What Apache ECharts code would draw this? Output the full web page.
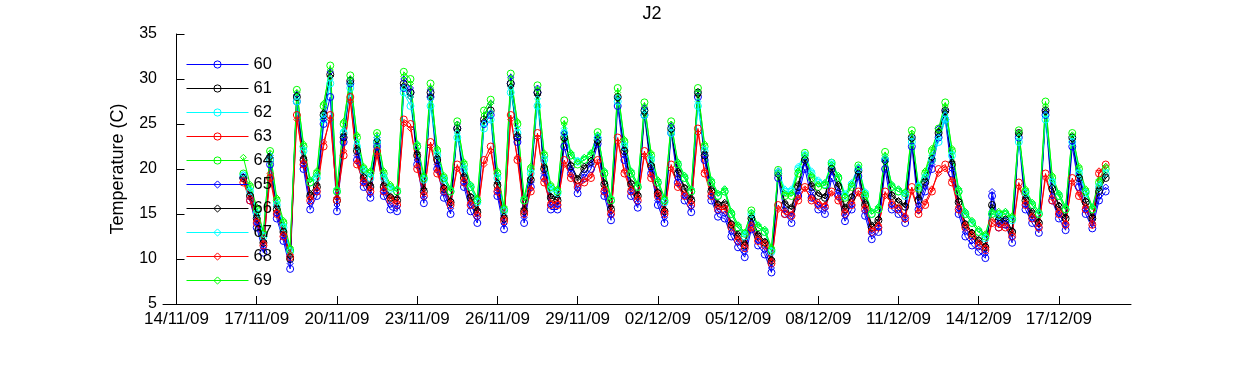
<!DOCTYPE html>
<html>
<head>
<meta charset="utf-8">
<script src="https://cdn.jsdelivr.net/npm/echarts@6/dist/echarts.min.js"></script>
<style>html,body{margin:0;padding:0;background:#fff}#c{width:1250px;height:365px}</style>
</head>
<body>
<div id="c"></div>
<script>
// Samples every 6 hours starting 16/11/09 12:00
var startDate = '2009-11-16T12:00:00Z';
var stepHours = 6;
var axisOrigin = '2009-11-14T00:00:00Z';
var tickDays = [0, 3, 6, 9, 12, 15, 18, 21, 24, 27, 30, 33];
var yTicks = [5, 10, 15, 20, 25, 30, 35];
var seriesNames = ['60', '61', '62', '63', '64', '65', '66', '67', '68', '69'];

var s60 = [19.0,16.5,
13.5,10.7,20.5,14.5, 12.0,8.9,27.5,20.0, 15.5,17.0,25.0,28.0, 15.3,23.0,29.5,21.0,
18.0,16.8,22.5,17.0, 15.5,15.3,29.0,28.5, 20.5,16.2,28.0,20.0, 16.8,15.0,24.5,18.0,
15.3,14.0,25.0,26.0, 17.0,13.3,29.5,23.0, 14.0,18.0,28.5,19.0, 15.5,15.5,22.5,19.5,
17.3,19.0,20.0,22.8, 17.0,14.3,27.0,21.0, 17.0,15.7,26.0,19.5, 16.0,14.0,24.0,18.5,
16.5,15.2,28.0,21.0, 16.5,14.7,14.5,12.5, 11.3,10.2,13.3,11.5, 10.5,8.5,19.0,15.0,
14.0,17.0,20.0,16.8, 15.5,15.0,19.0,17.0, 14.2,15.5,19.2,14.8, 12.2,13.0,20.0,15.5,
15.0,14.0,22.5,15.5, 17.5,20.0,23.5,25.5, 19.5,15.0,12.5,11.5, 10.8,10.1,17.0,13.5,
13.8,11.8,23.5,15.5, 14.0,12.9,26.0,16.5, 14.5,13.2,22.5,18.0, 15.0,13.4,16.5,17.5];

var s61 = [19.0,17.0,
14.5,11.8,21.0,15.5, 13.0,10.0,28.0,21.0, 17.0,18.0,26.0,30.5, 16.5,23.5,29.8,22.0,
19.0,18.0,23.0,18.0, 16.8,16.5,29.5,28.5, 21.5,17.5,28.5,21.0, 17.8,16.3,24.5,19.0,
16.8,15.2,25.5,26.5, 18.2,14.5,29.5,23.5, 15.3,18.8,28.5,20.0, 16.8,16.5,23.5,20.3,
18.8,20.0,20.8,23.2, 18.3,15.5,28.0,22.0, 18.3,17.0,26.5,20.3, 17.3,15.3,24.5,19.5,
17.8,16.5,28.5,21.5, 17.5,16.0,16.0,13.8, 12.5,11.5,14.5,12.5, 11.8,9.8,19.5,16.0,
15.5,18.0,21.0,18.0, 17.0,16.8,20.0,18.0, 15.5,16.8,19.8,16.0, 13.5,14.3,21.0,17.0,
16.3,15.8,23.5,16.5, 18.5,21.0,24.0,26.5, 20.5,16.3,13.8,12.8, 12.0,11.3,16.0,14.3,
14.3,13.0,24.0,16.5, 15.0,14.0,26.5,17.8, 15.8,14.5,23.5,19.0, 16.3,14.5,17.5,19.0];

var s62 = [19.3,17.5,
15.0,12.5,21.0,16.0, 13.5,10.8,27.5,22.0, 18.5,19.0,25.5,29.5, 17.5,24.0,29.0,22.5,
19.8,19.0,23.0,19.0, 17.8,17.5,28.5,27.0, 22.5,18.8,27.0,21.5, 18.8,17.5,23.5,20.0,
18.0,16.3,24.5,25.5, 19.0,15.3,28.5,24.0, 16.5,19.5,27.0,21.0, 17.8,17.3,24.0,21.5,
20.8,21.0,21.5,23.5, 19.5,16.5,27.5,22.5, 19.5,18.0,26.0,21.0, 18.5,16.3,24.0,20.5,
19.0,17.5,27.0,22.0, 18.5,17.0,17.5,15.0, 13.5,12.5,15.0,13.5, 13.0,10.8,19.5,17.5,
17.5,20.0,21.5,19.5, 18.5,18.3,20.5,19.0, 17.0,18.3,20.0,17.3, 15.0,15.5,21.0,18.0,
17.5,17.0,23.0,18.0, 19.0,21.0,23.0,25.5, 21.5,17.5,15.0,14.0, 13.0,12.3,15.0,14.8,
15.0,14.3,23.0,17.3, 16.0,15.0,25.5,18.5, 17.0,15.5,23.0,19.5, 17.3,15.5,18.0,19.5];

var s63 = [18.5,16.5,
14.0,11.5,19.0,15.0, 12.5,10.2,26.0,20.5, 16.5,17.5,22.5,26.0, 16.5,21.5,28.0,20.5,
18.5,17.5,22.0,17.5, 16.5,16.0,25.5,25.0, 20.0,17.0,23.0,19.5, 17.5,16.0,20.5,18.5,
16.0,14.8,21.0,22.5, 17.5,14.2,26.0,21.0, 15.0,17.5,24.0,18.5, 16.0,16.0,21.0,19.0,
18.0,18.5,19.0,21.0, 17.5,15.0,23.5,19.5, 17.5,16.5,22.0,19.0, 17.0,15.0,20.5,18.0,
17.0,16.0,24.5,19.5, 17.0,15.5,15.5,13.5, 12.0,11.2,13.5,12.0, 11.5,9.5,16.0,15.0,
14.8,16.5,18.0,16.5, 16.0,15.8,17.5,16.5, 15.0,16.0,17.5,15.5, 13.0,13.5,17.5,16.0,
15.5,14.5,18.0,15.0, 16.0,17.5,20.0,20.5, 18.5,15.5,13.5,12.5, 11.5,11.0,14.0,13.5,
13.5,12.5,18.5,16.0, 14.5,13.5,19.5,16.5, 15.0,13.8,19.0,17.0, 15.5,13.8,19.5,20.5];

var s64 = [19.5,18.0,
15.5,12.8,22.0,16.5, 14.0,11.0,28.8,22.5, 18.5,19.5,27.0,31.5, 17.5,25.0,30.4,23.5,
20.0,19.5,24.0,19.5, 18.0,17.5,30.8,30.0, 22.5,19.0,29.5,22.0, 19.0,17.5,25.3,20.5,
18.0,16.5,26.5,27.7, 19.5,15.5,30.6,25.0, 16.5,20.0,29.3,21.5, 18.0,17.5,25.4,21.5,
20.5,21.0,21.5,24.1, 19.5,16.5,29.0,23.0, 19.5,18.0,27.4,21.5, 18.5,16.5,25.3,20.5,
19.0,17.5,29.0,22.5, 18.5,17.0,17.5,15.0, 13.5,12.8,15.4,13.5, 13.0,11.0,19.9,17.0,
17.0,19.5,21.8,19.0, 18.0,18.2,20.7,19.0, 16.8,18.0,20.4,17.0, 15.0,15.5,21.9,18.0,
17.5,17.3,24.3,17.8, 19.5,22.0,24.5,27.4, 22.0,17.5,15.0,14.0, 13.0,12.5,15.0,15.0,
15.0,14.5,24.3,17.5, 16.0,15.0,27.5,19.0, 17.0,15.5,24.0,20.0, 17.5,15.5,18.5,20.0];

var s65 = [19.2,16.8,
14.0,11.2,21.5,15.0, 12.5,9.5,28.3,20.5, 16.2,17.5,25.5,30.8, 16.0,23.5,30.0,21.5,
18.5,17.2,23.5,17.5, 16.0,15.8,30.0,29.0, 21.0,16.8,28.8,20.5, 17.3,15.6,25.0,18.5,
16.0,14.6,26.0,27.3, 17.5,13.9,30.2,23.5, 14.6,18.5,29.0,19.5, 16.0,16.0,24.0,20.0,
17.8,19.5,20.5,23.5, 17.5,14.9,28.0,21.5, 17.5,16.3,26.8,20.0, 16.5,14.6,24.8,19.0,
17.0,15.8,28.5,21.5, 17.0,15.3,15.0,13.0, 11.8,10.8,14.0,12.0, 11.0,9.0,19.8,15.5,
14.8,17.5,20.8,17.5, 16.0,15.6,19.8,17.5, 14.8,16.0,20.0,15.3, 12.8,13.5,21.0,16.0,
15.5,14.6,23.5,16.0, 18.0,20.5,24.5,26.5, 20.0,15.6,13.0,12.0, 11.3,10.6,17.5,14.0,
14.3,12.4,24.0,16.0, 14.5,13.5,26.5,17.0, 15.0,13.8,23.0,18.5, 15.5,14.0,17.0,18.0];

var s66 = [19.1,17.2,
14.8,12.0,21.3,15.8, 13.2,10.3,28.2,21.3, 17.3,18.3,26.3,30.3, 16.8,23.8,29.5,22.3,
19.2,18.3,23.2,18.3, 17.0,16.8,29.3,28.0, 21.8,17.8,28.0,21.3, 18.0,16.5,24.3,19.3,
17.0,15.5,25.3,26.3, 18.5,14.8,29.2,23.8, 15.6,19.0,28.2,20.3, 17.0,16.8,23.3,20.5,
19.0,20.3,21.0,23.0, 18.5,15.8,27.8,22.2, 18.5,17.2,26.2,20.5, 17.5,15.5,24.3,19.8,
18.0,16.8,28.2,21.8, 17.8,16.2,16.3,14.0, 12.8,11.8,14.7,12.8, 12.0,10.0,19.3,16.3,
15.8,18.3,21.2,18.3, 17.3,17.0,20.2,18.3, 15.8,17.0,19.6,16.3, 13.8,14.5,20.8,17.2,
16.5,16.0,23.3,16.8, 18.8,21.2,24.2,26.3, 20.8,16.5,14.0,13.0, 12.2,11.5,15.8,14.5,
14.5,13.2,23.8,16.8, 15.3,14.2,26.3,18.0, 16.0,14.7,23.3,19.2, 16.5,14.7,17.8,19.3];

var s67 = [19.4,17.8,
15.3,12.7,21.5,16.3, 13.8,11.0,28.0,22.3, 18.8,19.3,26.0,30.0, 17.8,24.3,29.5,23.0,
20.0,19.3,23.5,19.3, 18.0,17.8,29.0,28.0, 22.8,19.0,27.8,21.8, 19.0,17.8,24.0,20.3,
18.2,16.5,25.0,26.3, 19.3,15.5,29.0,24.5, 16.8,19.8,27.8,21.3, 18.0,17.5,24.5,21.8,
21.0,21.3,21.8,23.8, 19.8,16.8,28.0,22.8, 19.8,18.3,26.5,21.3, 18.8,16.5,24.5,20.8,
19.3,17.8,27.5,22.3, 18.8,17.3,17.8,15.3, 13.8,12.8,15.2,13.8, 13.3,11.0,19.8,17.8,
17.8,20.3,21.7,19.8, 18.8,18.5,20.8,19.3, 17.3,18.5,20.3,17.5, 15.3,15.8,21.3,18.3,
17.8,17.3,23.5,18.3, 19.3,21.5,23.5,26.0, 21.8,17.8,15.2,14.2, 13.3,12.5,15.3,15.0,
15.3,14.5,23.5,17.5, 16.3,15.2,26.0,18.8, 17.3,15.8,23.5,19.8, 17.5,15.8,18.3,19.8];

var s68 = [18.8,16.8,
14.3,11.8,19.5,15.3, 12.8,10.5,25.5,20.8, 16.8,17.8,23.0,25.5, 16.8,22.0,27.5,20.8,
18.8,17.8,21.5,17.8, 16.8,16.3,25.0,24.5, 20.3,17.3,22.5,19.8, 17.8,16.3,20.0,18.8,
16.3,15.0,20.5,22.0, 17.8,14.5,25.5,21.3, 15.3,17.8,23.5,18.8, 16.3,16.3,20.5,19.3,
18.3,18.8,19.3,20.8, 17.8,15.3,23.0,19.8, 17.8,16.8,21.5,19.3, 17.3,15.3,20.0,18.3,
17.3,16.3,24.0,19.8, 17.3,15.8,15.8,13.8, 12.3,11.5,13.8,12.3, 11.8,9.8,15.5,15.3,
15.0,16.8,17.8,16.8, 16.3,16.0,17.3,16.8, 15.3,16.3,17.3,15.8, 13.3,13.8,17.0,16.3,
15.8,14.8,17.5,15.3, 16.3,17.8,19.5,20.0, 18.8,15.8,13.8,12.8, 11.8,11.3,14.3,13.8,
13.8,12.8,18.0,16.3, 14.8,13.8,19.0,16.8, 15.3,14.0,18.5,17.3, 15.8,14.0,19.8,20.3];

var s69 = [21.3,18.3,
15.8,13.0,21.8,16.8, 14.3,11.3,28.5,22.8, 18.8,19.8,27.3,31.0, 17.8,25.3,30.0,23.8,
20.3,19.8,23.8,19.8, 18.3,17.8,30.3,29.5, 22.8,19.3,29.0,22.3, 19.3,17.8,25.0,20.8,
18.3,16.8,26.0,27.3, 19.8,15.8,30.0,25.3, 16.8,20.3,28.8,21.8, 18.3,17.8,25.0,21.8,
20.8,21.3,21.8,23.8, 19.8,16.8,28.5,23.3, 19.8,18.3,27.0,21.8, 18.8,16.8,25.0,20.8,
19.3,17.8,28.5,22.8, 18.8,17.3,17.8,15.3, 13.8,13.0,15.2,13.8, 13.3,11.3,19.5,17.3,
17.3,19.8,21.5,19.3, 18.3,18.5,20.5,19.3, 17.0,18.3,20.2,17.3, 15.3,15.8,21.5,18.3,
17.8,17.5,24.0,18.0, 19.8,22.3,24.3,27.0, 22.3,17.8,15.3,14.3, 13.3,12.8,15.3,15.3,
15.3,14.8,24.0,17.8, 16.3,15.3,27.0,19.3, 17.3,15.8,23.8,20.3, 17.8,15.8,18.8,20.3];

var seriesValues = [s60, s61, s62, s63, s64, s65, s66, s67, s68, s69];
var colors = ['#0000ff', '#000000', '#00ffff', '#ff0000', '#00ff00'];

var DAY = 86400000;
var t0 = (Date.parse(startDate) - Date.parse(axisOrigin)) / DAY;
function pad(n) { return (n < 10 ? '0' : '') + n; }
function fmtDay(v) {
  var d = new Date(Date.parse(axisOrigin) + Math.round(v * DAY));
  return pad(d.getUTCDate()) + '/' + pad(d.getUTCMonth() + 1) + '/' + pad(d.getUTCFullYear() % 100);
}

var FONT = 'Liberation Sans, Arial, Helvetica, sans-serif';
var series = seriesNames.map(function (name, k) {
  var vals = seriesValues[k];
  var circle = k < 5;
  var c = colors[k % 5];
  return {
    name: name,
    type: 'line',
    data: vals.map(function (v, i) { return [t0 + i * stepHours / 24, v]; }),
    symbol: circle ? 'circle' : 'diamond',
    symbolSize: circle ? 7 : 6,
    showAllSymbol: true,
    lineStyle: { width: 1, color: c },
    itemStyle: { color: 'rgba(255,255,255,0)', borderColor: c, borderWidth: 1 },
    emphasis: { disabled: true },
    animation: false
  };
});

var chart = echarts.init(document.getElementById('c'), null, { renderer: 'canvas' });
chart.setOption({
  backgroundColor: '#ffffff',
  animation: false,
  title: {
    text: 'J2', left: 647, top: 0, textAlign: 'center',
    textStyle: { fontFamily: FONT, fontSize: 18, fontWeight: 'normal', color: '#000' }
  },
  legend: {
    orient: 'vertical', left: 186, top: 56, padding: 0,
    itemWidth: 62, itemHeight: 9, itemGap: 7,
    textStyle: { fontFamily: FONT, fontSize: 16.5, color: '#000' },
    lineStyle: { width: 1 },
    itemStyle: { color: 'rgba(255,255,255,0)', borderWidth: 1 },
    data: seriesNames, selectedMode: false
  },
  grid: { left: 163, right: 119, top: 34, bottom: 61, containLabel: false },
  xAxis: {
    type: 'value', min: -0.505, max: 35.696,
    axisLine: { show: true, lineStyle: { color: '#000', width: 1 } },
    splitLine: { show: false },
    axisTick: { show: true, inside: true, length: 8, lineStyle: { color: '#000' }, customValues: tickDays },
    axisLabel: {
      customValues: tickDays, formatter: fmtDay, margin: 7,
      fontFamily: FONT, fontSize: 17, color: '#000'
    }
  },
  yAxis: {
    type: 'value', min: 5, max: 35, interval: 5,
    name: 'Temperature (C)', nameLocation: 'middle', nameGap: 36, nameRotate: 90,
    nameTextStyle: { fontFamily: FONT, fontSize: 18, color: '#000' },
    axisLine: { show: true, lineStyle: { color: '#000', width: 1 } },
    splitLine: { show: false },
    axisTick: { show: true, inside: true, length: 8, lineStyle: { color: '#000' }, customValues: yTicks },
    axisLabel: { customValues: yTicks, margin: 6, fontFamily: FONT, fontSize: 16, color: '#000' }
  },
  series: series
});
</script>
</body>
</html>
